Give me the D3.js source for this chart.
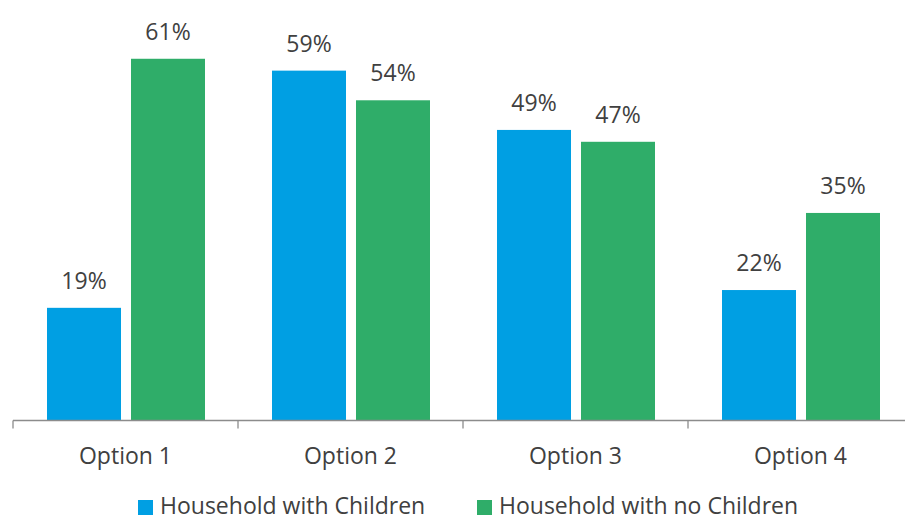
<!DOCTYPE html>
<html>
<head>
<meta charset="utf-8">
<script src="https://cdn.jsdelivr.net/npm/d3@7"></script>
<style>
  html, body { margin: 0; padding: 0; background: #fff; }
  svg { display: block; font-family: "Open Sans", Lato, sans-serif; }
</style>
</head>
<body>
<svg id="chart" width="905" height="520"></svg>
<script>
// Share of households choosing each option
const categories = ["Option 1", "Option 2", "Option 3", "Option 4"];
const seriesNames = ["Household with Children", "Household with no Children"];
const withChildren = [19, 59, 49, 22];
const withoutChildren = [61, 54, 47, 35];
const seriesColors = ["#009FE3", "#2FAD69"];

const svg = d3.select("#chart");
const textColor = "#404040";
const fontSize = "23px";

const baseY = 420.5;
const y = d3.scaleLinear().domain([0, 70]).range([baseY, baseY - 70 * 5.93]);

const x0 = d3.scaleBand().domain(categories).range([13, 913]).padding(0);
const x1 = d3.scaleBand().domain(seriesNames).range([34, 192]).paddingInner(0.119).paddingOuter(0);

const rows = categories.map((c, i) => ({
  category: c,
  values: [
    { series: seriesNames[0], value: withChildren[i], color: seriesColors[0] },
    { series: seriesNames[1], value: withoutChildren[i], color: seriesColors[1] }
  ]
}));

const groups = svg.append("g").selectAll("g")
  .data(rows)
  .join("g")
  .attr("transform", d => `translate(${x0(d.category)},0)`);

groups.selectAll("rect")
  .data(d => d.values)
  .join("rect")
  .attr("x", d => x1(d.series))
  .attr("width", x1.bandwidth())
  .attr("y", d => y(d.value))
  .attr("height", d => y(0) - y(d.value))
  .attr("fill", d => d.color);

groups.selectAll("text.value")
  .data(d => d.values)
  .join("text")
  .attr("class", "value")
  .attr("x", d => x1(d.series) + x1.bandwidth() / 2)
  .attr("y", d => y(d.value) - 19)
  .attr("text-anchor", "middle")
  .attr("fill", textColor)
  .style("font-size", fontSize)
  .text(d => d.value + "%");

// Category axis along the baseline
const axisG = svg.append("g").attr("transform", `translate(0,${baseY})`);
axisG.append("line")
  .attr("x1", x0.range()[0]).attr("x2", x0.range()[1])
  .attr("stroke", "#8c8c8c").attr("stroke-width", 1.3);
const tickPositions = categories.map(c => x0(c)).concat([x0.range()[1]]);
axisG.selectAll("line.tick")
  .data(tickPositions)
  .join("line")
  .attr("class", "tick")
  .attr("x1", d => d).attr("x2", d => d)
  .attr("y1", 0).attr("y2", 8)
  .attr("stroke", "#8c8c8c").attr("stroke-width", 1.3);
axisG.selectAll("text.cat")
  .data(categories)
  .join("text")
  .attr("class", "cat")
  .attr("x", d => x0(d) + x0.bandwidth() / 2)
  .attr("y", 43.5)
  .attr("text-anchor", "middle")
  .attr("fill", textColor)
  .style("font-size", fontSize)
  .text(d => d);

// Legend
const legendItems = [
  { name: seriesNames[0], color: seriesColors[0], x: 138 },
  { name: seriesNames[1], color: seriesColors[1], x: 477 }
];
const legend = svg.append("g").selectAll("g")
  .data(legendItems)
  .join("g")
  .attr("transform", d => `translate(${d.x},0)`);
legend.append("rect")
  .attr("x", 0).attr("y", 500)
  .attr("width", 15).attr("height", 15)
  .attr("fill", d => d.color);
legend.append("text")
  .attr("x", 22).attr("y", 514)
  .attr("fill", textColor)
  .style("font-size", fontSize)
  .text(d => d.name);
</script>
</body>
</html>
